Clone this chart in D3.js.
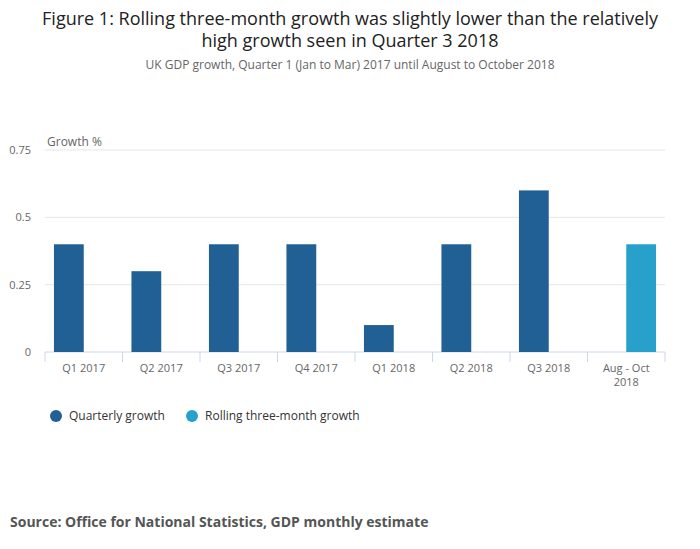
<!DOCTYPE html>
<html><head><meta charset="utf-8">
<script src="https://cdn.jsdelivr.net/npm/d3@7"></script>
<style>body{margin:0;background:#fff;font-family:"Open Sans",sans-serif}</style>
</head><body><svg id="c" width="700" height="549"></svg>
<script>
const categories=["Q1 2017","Q2 2017","Q3 2017","Q4 2017","Q1 2018","Q2 2018","Q3 2018","Aug - Oct|2018"];
const quarterly=[0.4,0.3,0.4,0.4,0.1,0.4,0.6,null];
const rolling=[null,null,null,null,null,null,null,0.4];
const seriesNames=["Quarterly growth","Rolling three-month growth"];
const colors=["#206095","#27a0cc"];
const yTicks=[0,0.25,0.5,0.75];
const yTickLabels=["0","0.25","0.5","0.75"];

const svg=d3.select("#c");
svg.append("text").attr("x",350).attr("y",25).attr("text-anchor","middle").attr("font-size",18).attr("fill","#222").text("Figure 1: Rolling three-month growth was slightly lower than the relatively");
svg.append("text").attr("x",350).attr("y",47).attr("text-anchor","middle").attr("font-size",18).attr("fill","#222").text("high growth seen in Quarter 3 2018");
svg.append("text").attr("x",350).attr("y",69).attr("text-anchor","middle").attr("font-size",12).attr("fill","#666").text("UK GDP growth, Quarter 1 (Jan to Mar) 2017 until August to October 2018");

const L=45,R=665,T=150,B=352;
const x=d3.scaleBand().domain(categories).range([L,R]);
const x1=d3.scaleBand().domain([0,1]).range([0,x.bandwidth()]).paddingInner(0).paddingOuter(0.3);
const y=d3.scaleLinear().domain([0,0.75]).range([B,T]);

const g=svg.append("g");
g.selectAll(".grid").data(yTicks).join("line").attr("x1",L).attr("x2",R).attr("y1",d=>y(d)).attr("y2",d=>y(d)).attr("stroke",(d)=>d===0?"#ccd6eb":"#e6e6e6");
g.selectAll(".yl").data(yTicks).join("text").attr("x",31).attr("y",d=>y(d)+4).attr("text-anchor","end").attr("font-size",11).attr("fill","#666").text((d,i)=>yTickLabels[i]);
svg.append("text").attr("x",47).attr("y",146).attr("font-size",12).attr("fill","#666").text("Growth %");

[quarterly,rolling].forEach((s,si)=>{
  g.selectAll(".b"+si).data(categories.map((c,i)=>({c,v:s[i]})).filter(d=>d.v!=null)).join("rect")
   .attr("x",d=>x(d.c)+x1(si)).attr("width",x1.bandwidth()).attr("y",d=>y(d.v)).attr("height",d=>B-y(d.v)).attr("fill",colors[si]);
});
const edges=categories.map(c=>x(c)).concat([R]);
g.selectAll(".tk").data(edges).join("line").attr("x1",d=>d).attr("x2",d=>d).attr("y1",B).attr("y2",B+10).attr("stroke","#ccd6eb");
categories.forEach(c=>{
  const t=svg.append("text").attr("x",x(c)+x.bandwidth()/2).attr("y",372).attr("text-anchor","middle").attr("font-size",11).attr("fill","#666");
  c.split("|").forEach((p,i)=>t.append("tspan").attr("x",x(c)+x.bandwidth()/2).attr("dy",i?14:0).text(p));
});
const lx=[56,192];
seriesNames.forEach((n,i)=>{
  svg.append("circle").attr("cx",lx[i]).attr("cy",416).attr("r",6).attr("fill",colors[i]);
  svg.append("text").attr("x",lx[i]+13).attr("y",420).attr("font-size",12).attr("fill","#333").text(n);
});
svg.append("text").attr("x",10).attr("y",527).attr("font-size",14).attr("font-weight","bold").attr("fill","#555").text("Source: Office for National Statistics, GDP monthly estimate");
</script></body></html>
